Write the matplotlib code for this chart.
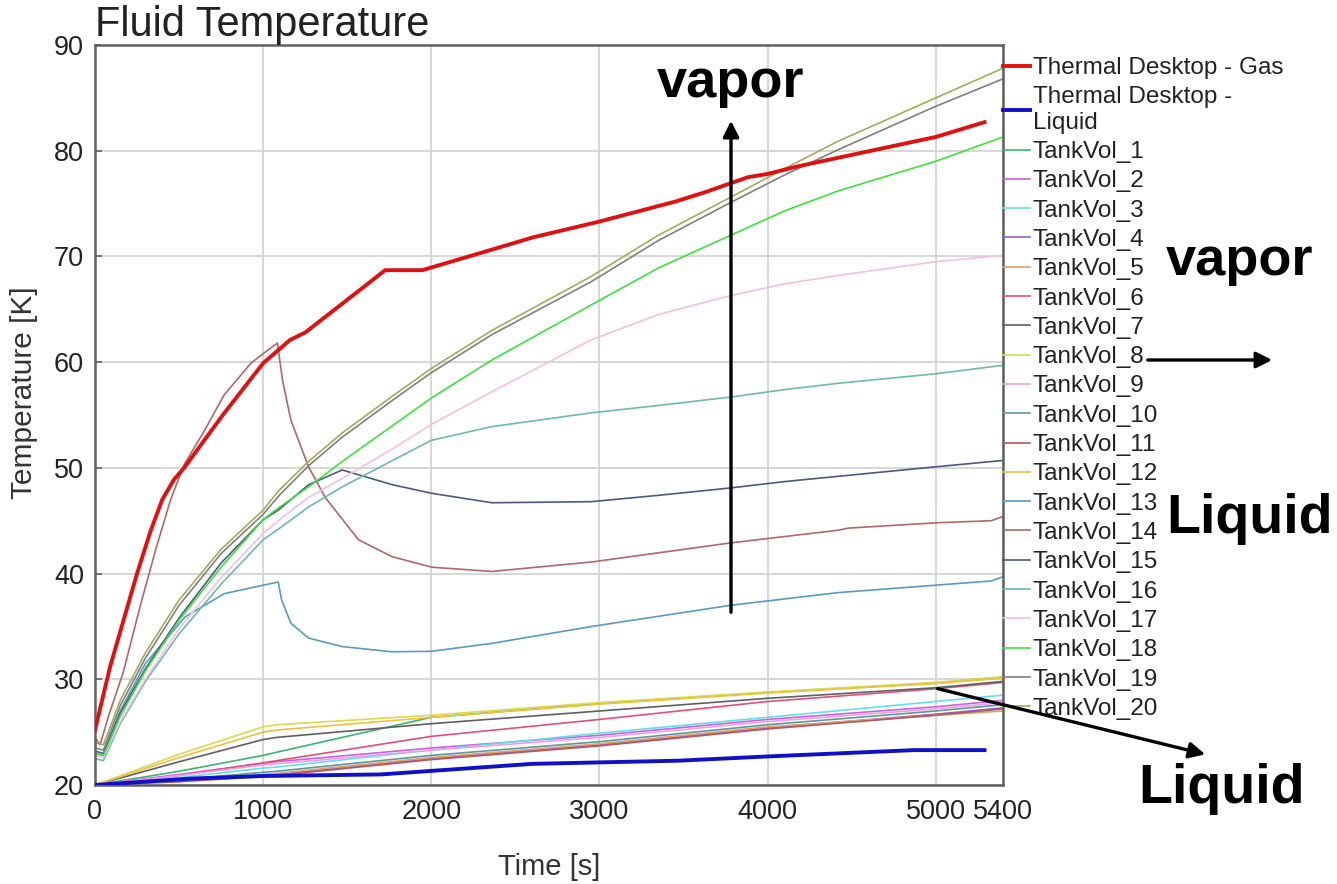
import matplotlib
matplotlib.use("Agg")
import matplotlib.pyplot as plt
from matplotlib.patches import FancyArrowPatch

plt.rcParams['font.family'] = ['Liberation Sans', 'DejaVu Sans']

# ---------------- data ----------------
gas_t = [0, 90, 250, 330, 400, 470, 530, 760, 1000, 1160, 1250, 1726, 1946, 2351, 2604, 3000,
         3454, 3633, 3884, 4000, 4174, 5000, 5290]
gas_T = [25.2, 31.2, 40.0, 44.0, 47.0, 48.9, 50.0, 55.0, 59.9, 62.1, 62.8, 68.7, 68.7, 70.6,
         71.8, 73.3, 75.2, 76.1, 77.5, 77.8, 78.5, 81.3, 82.7]

liq_t = [0, 565, 1000, 1700, 2600, 3470, 4000, 4870, 5290]
liq_T = [20.0, 20.6, 20.85, 21.0, 22.0, 22.3, 22.7, 23.3, 23.3]

# liquid-region tank volumes (common time grid)
tl = [0, 500, 1000, 1080, 2000, 3000, 4000, 5000, 5400]
tv1 = [20, 21.3, 22.8, 23.1, 26.4, 27.7, 28.75, 29.65, 30.2]
tv2 = [20, 21.0, 22.05, 22.2, 23.5, 24.7, 26.2, 27.4, 28.0]
tv3 = [20, 20.7, 21.6, 21.7, 23.3, 24.9, 26.4, 27.9, 28.5]
tv4 = [20, 20.4, 20.9, 21.0, 22.5, 23.8, 25.4, 26.7, 27.3]
tv5 = [20, 20.4, 21.0, 21.1, 22.6, 23.9, 25.5, 26.6, 27.0]
tv6 = [20, 20.9, 22.1, 22.3, 24.6, 26.2, 27.9, 29.1, 29.7]
tv7 = [20, 22.2, 24.3, 24.5, 25.8, 27.0, 28.2, 29.2, 29.8]
tv8 = [20, 22.9, 25.5, 25.7, 26.6, 27.8, 28.8, 29.7, 30.25]
tv9 = [20, 20.9, 21.9, 22.0, 23.3, 24.5, 26.0, 27.2, 27.8]
tv10 = [20, 20.5, 21.2, 21.3, 22.8, 24.1, 25.7, 27.0, 27.6]
tv11 = [20, 20.3, 20.8, 20.9, 22.4, 23.7, 25.3, 26.6, 27.2]
tv12 = [20, 22.6, 25.0, 25.2, 26.4, 27.65, 28.7, 29.6, 30.1]

# vapor-region tank volumes
tvap = [0, 50, 150, 300, 500, 750, 1000, 1090, 1270, 1470, 1770, 2000, 2360, 2950, 3350,
        3780, 4100, 4420, 5000, 5400]
tv15 = [23.2, 23.0, 26.8, 31.0, 35.8, 41.0, 45.1, 46.0, 48.4, 49.8, 48.4, 47.6, 46.7, 46.8,
        47.4, 48.1, 48.7, 49.2, 50.1, 50.7]
tv16 = [22.5, 22.3, 25.8, 29.8, 34.3, 39.0, 43.2, 44.2, 46.3, 48.2, 50.7, 52.6, 53.9, 55.2,
        55.9, 56.7, 57.4, 58.0, 58.9, 59.7]
tv17 = [22.8, 22.6, 26.0, 30.0, 34.8, 39.6, 43.8, 45.0, 47.2, 49.0, 51.8, 54.1, 57.2, 62.1,
        64.5, 66.3, 67.4, 68.2, 69.5, 70.1]
tv18 = [23.0, 22.8, 26.5, 30.8, 35.6, 40.6, 45.1, 46.2, 48.2, 50.6, 54.0, 56.6, 60.2, 65.4,
        68.9, 72.0, 74.3, 76.2, 79.0, 81.3]
tv19 = [23.5, 23.3, 27.5, 32.0, 37.0, 41.9, 45.6, 47.3, 50.2, 52.9, 56.4, 59.0, 62.6, 67.6,
        71.5, 75.1, 77.7, 80.1, 84.2, 86.8]
tv20 = [24.0, 23.8, 28.0, 32.5, 37.5, 42.3, 46.0, 47.8, 50.6, 53.3, 56.8, 59.4, 63.0, 68.1,
        72.0, 75.6, 78.3, 80.9, 85.0, 87.8]

t13 = [0, 50, 150, 300, 536, 768, 1000, 1090, 1110, 1165, 1270, 1468, 1766, 2004, 2361,
       2956, 3780, 4420, 5000, 5330, 5400]
tv13 = [23.0, 22.8, 27.0, 31.5, 35.9, 38.1, 38.9, 39.2, 37.5, 35.3, 33.9, 33.1, 32.6, 32.65,
        33.4, 35.0, 37.0, 38.2, 38.9, 39.3, 39.7]

t14 = [0, 30, 80, 167, 270, 365, 450, 530, 650, 768, 927, 1000, 1085, 1115, 1165, 1270,
       1369, 1567, 1766, 2004, 2361, 2956, 3780, 4420, 4480, 5000, 5330, 5400]
tv14 = [24.5, 23.8, 26.5, 30.6, 37.0, 42.5, 47.0, 50.3, 53.5, 56.9, 59.9, 60.8, 61.8, 58.3,
        54.5, 50.1, 47.2, 43.2, 41.6, 40.6, 40.2, 41.1, 42.9, 44.1, 44.3, 44.8, 45.0, 45.4]

x_ticks = [0, 1000, 2000, 3000, 4000, 5000, 5400]
y_ticks = [20, 30, 40, 50, 60, 70, 80, 90]

series = [
    ("Thermal Desktop - Gas", gas_t, gas_T, "#e01010", 2.8),
    ("Thermal Desktop -\nLiquid", liq_t, liq_T, "#1010c8", 2.8),
    ("TankVol_1", tl, tv1, "#3cb371", 1.2),
    ("TankVol_2", tl, tv2, "#d060d8", 1.2),
    ("TankVol_3", tl, tv3, "#60e0e8", 1.2),
    ("TankVol_4", tl, tv4, "#9a60d0", 1.2),
    ("TankVol_5", tl, tv5, "#e0a070", 1.2),
    ("TankVol_6", tl, tv6, "#e0507a", 1.2),
    ("TankVol_7", tl, tv7, "#606060", 1.2),
    ("TankVol_8", tl, tv8, "#dada50", 1.2),
    ("TankVol_9", tl, tv9, "#e8a0e8", 1.2),
    ("TankVol_10", tl, tv10, "#5a9a9a", 1.2),
    ("TankVol_11", tl, tv11, "#b05a5a", 1.2),
    ("TankVol_12", tl, tv12, "#f0c040", 1.2),
    ("TankVol_13", t13, tv13, "#5a9ac0", 1.2),
    ("TankVol_14", t14, tv14, "#b06868", 1.2),
    ("TankVol_15", tvap, tv15, "#4a5a80", 1.2),
    ("TankVol_16", tvap, tv16, "#70b8b0", 1.2),
    ("TankVol_17", tvap, tv17, "#f2c0e2", 1.2),
    ("TankVol_18", tvap, tv18, "#40e040", 1.2),
    ("TankVol_19", tvap, tv19, "#808080", 1.2),
    ("TankVol_20", tvap, tv20, "#a8a860", 1.2),
]

# ---------------- figure ----------------
W, H = 1337, 884
fig = plt.figure(figsize=(W / 100, H / 100), dpi=100)
ax = fig.add_axes([95 / W, 1 - 785 / H, (1003 - 95) / W, (785 - 45) / H])

for lab, t, T, c, lw in series:
    ax.plot(t, T, color=c, lw=lw, label=lab, zorder=3 if lw > 2 else 2)

ax.set_xlim(0, 5400)
ax.set_ylim(20, 90)
ax.set_xticks(x_ticks)
ax.set_xticklabels([str(v) for v in x_ticks])
ax.set_yticks(y_ticks)
ax.grid(True, color="#d4d4d4", lw=1.3, zorder=0)
for s in ax.spines.values():
    s.set_color("#606060")
    s.set_linewidth(1.8)
ax.tick_params(axis="y", direction="in", length=5, width=1.2, color="#606060",
               labelsize=19.5, pad=8, labelcolor="#222222")
ax.tick_params(axis="x", length=0, labelsize=19.5, pad=10, labelcolor="#222222")
ax.set_xlabel("Time [s]", fontsize=21, color="#333333", labelpad=20)
ax.set_ylabel("Temperature [K]", fontsize=21.5, color="#333333")
ax.yaxis.set_label_coords(-0.063, 0.53)
ax.set_title("Fluid Temperature", fontsize=30, loc="left", pad=1, color="#222222", x=0.0)

leg = ax.legend(loc="upper left", bbox_to_anchor=(1003 / W, 1 - 57 / H),
                bbox_transform=fig.transFigure, frameon=False, fontsize=17.5,
                handlelength=1.1, handletextpad=0.12, labelspacing=0.30,
                borderpad=0, borderaxespad=0)
for txt in leg.get_texts():
    txt.set_color("#222222")

# ---------------- annotations ----------------
def fx(px):
    return px / W

def fy(py):
    return 1 - py / H

fig.text(fx(731), fy(97), "vapor", fontsize=39, fontweight="bold", ha="center", va="baseline")
fig.text(fx(1240), fy(275), "vapor", fontsize=39, fontweight="bold", ha="center", va="baseline")
fig.text(fx(1250), fy(533), "Liquid", fontsize=40, fontweight="bold", ha="center", va="baseline")
fig.text(fx(1222), fy(803), "Liquid", fontsize=40, fontweight="bold", ha="center", va="baseline")

arrows = [((731, 615), (731, 118)), ((1145, 360), (1275, 360)), ((935, 688), (1208, 755))]
for (x0, y0), (x1, y1) in arrows:
    fig.add_artist(FancyArrowPatch((fx(x0), fy(y0)), (fx(x1), fy(y1)),
                                   transform=fig.transFigure, arrowstyle="-|>",
                                   mutation_scale=24, lw=2.4, color="black", zorder=10))

fig.savefig("out.png", dpi=100)
